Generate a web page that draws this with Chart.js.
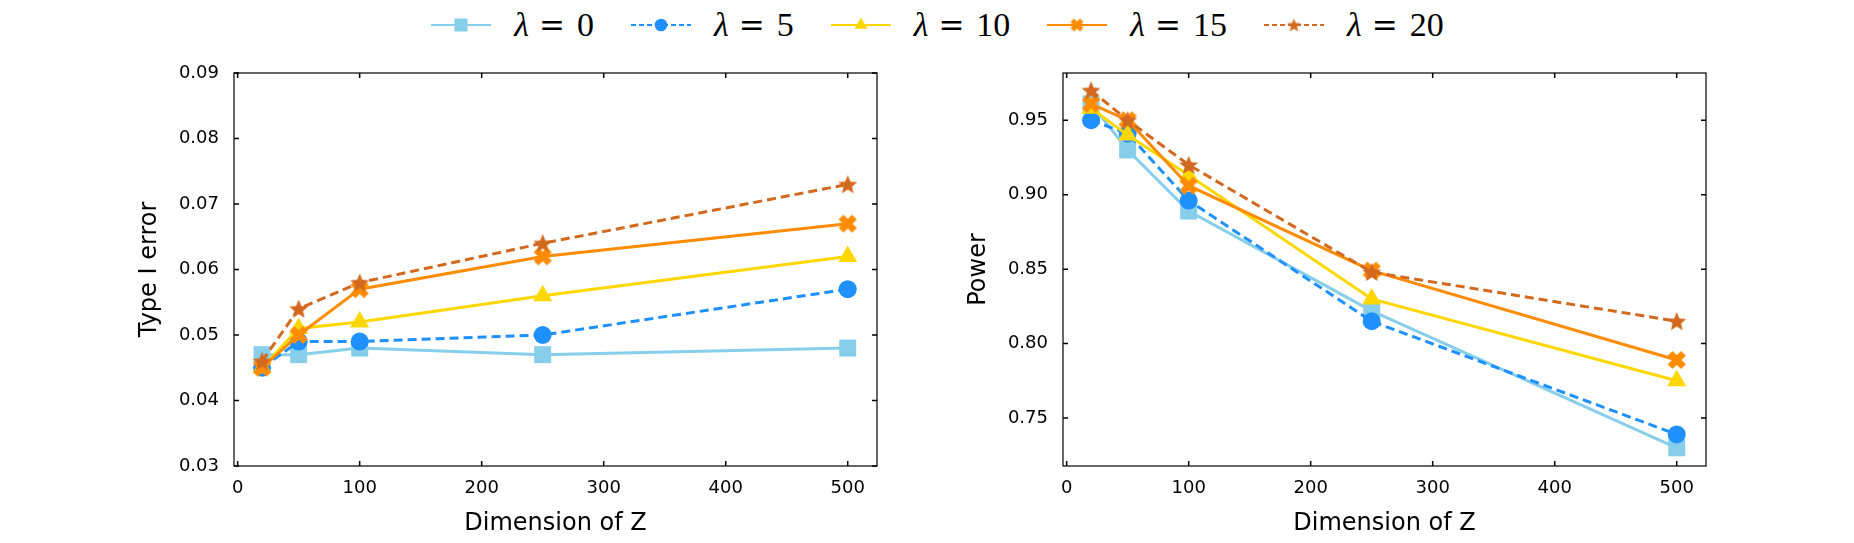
<!DOCTYPE html>
<html>
<head>
<meta charset="utf-8">
<script src="https://cdn.jsdelivr.net/npm/chart.js@4.4.1/dist/chart.umd.min.js"></script>
<style>
  html, body { margin: 0; padding: 0; background: #ffffff; }
  #wrap { position: relative; width: 1854px; height: 543px; overflow: hidden; background: #fff; }
  #left, #right { position: absolute; top: 0; width: 927px; height: 543px; }
  #left { left: 0; }
  #right { left: 927px; }
  #legend { position: absolute; top: 5px; left: 10px; width: 1854px; height: 40px;
            display: flex; justify-content: center; align-items: center; }
  .item { display: flex; align-items: center; margin: 0 18px; }
  .item canvas { width: 62px; height: 30px; margin-right: 22px; }
  .lab { font-family: "Liberation Serif", "DejaVu Serif", serif; font-size: 34px; color: #000; white-space: nowrap; line-height: 40px; }
  .lab i { font-style: italic; }
  .lab .eq { font-family: "DejaVu Serif", serif; font-size: 31px; margin: 0 12px 0 10px; }
</style>
</head>
<body>
<div id="wrap">
  <div id="legend"></div>
  <canvas id="left" width="927" height="543"></canvas>
  <canvas id="right" width="927" height="543"></canvas>
</div>
<script>
// ---------------- data ----------------
const dims = [20, 50, 100, 250, 500];
const lambdaLabels = ["0", "5", "10", "15", "20"];

const typeI_l0  = [0.047, 0.047, 0.048, 0.047, 0.048];
const typeI_l5  = [0.045, 0.049, 0.049, 0.050, 0.057];
const typeI_l10 = [0.045, 0.051, 0.052, 0.056, 0.062];
const typeI_l15 = [0.045, 0.050, 0.057, 0.062, 0.067];
const typeI_l20 = [0.046, 0.054, 0.058, 0.064, 0.073];

const power_l0  = [0.961, 0.930, 0.889, 0.822, 0.730];
const power_l5  = [0.950, 0.941, 0.896, 0.815, 0.739];
const power_l10 = [0.958, 0.940, 0.913, 0.830, 0.775];
const power_l15 = [0.961, 0.950, 0.906, 0.849, 0.789];
const power_l20 = [0.970, 0.950, 0.920, 0.848, 0.815];

const xTicks = [0, 100, 200, 300, 400, 500];
const typeITicks = [0.03, 0.04, 0.05, 0.06, 0.07, 0.08, 0.09];
const powerTicks = [0.75, 0.80, 0.85, 0.90, 0.95];

// ---------------- styles ----------------
const colors = ["#87CEEB", "#1E90FF", "#FFD700", "#FF8C00", "#D2691E"];
const dashed = [false, true, false, false, true];
const markers = ["rect", "circle", "triangle", "xcross", "star5"];

function xcrossImage(color, size) {
  const c = document.createElement("canvas");
  const W = Math.ceil(size + 4);
  c.width = W; c.height = W;
  const ctx = c.getContext("2d");
  ctx.translate(W / 2, W / 2);
  ctx.rotate(Math.PI / 4);
  ctx.fillStyle = color;
  const L = size * 1.414 * 0.74, t = L * 0.36;
  ctx.fillRect(-L / 2, -t / 2, L, t);
  ctx.fillRect(-t / 2, -L / 2, t, L);
  return c;
}
function starImage(color, size) {
  const c = document.createElement("canvas");
  const W = Math.ceil(size + 4);
  c.width = W; c.height = W;
  const ctx = c.getContext("2d");
  const R = size / 2, r = R * 0.45;
  ctx.translate(W / 2, W / 2 + R * 0.08);
  ctx.beginPath();
  for (let k = 0; k < 10; k++) {
    const a = -Math.PI / 2 + k * Math.PI / 5;
    const rr = (k % 2 === 0) ? R : r;
    const px = Math.cos(a) * rr, py = Math.sin(a) * rr;
    if (k === 0) ctx.moveTo(px, py); else ctx.lineTo(px, py);
  }
  ctx.closePath();
  ctx.fillStyle = color;
  ctx.fill();
  return c;
}

function pointStyleFor(i, scale) {
  const m = markers[i];
  if (m === "xcross") return xcrossImage(colors[i], 18 * scale);
  if (m === "star5") return starImage(colors[i], 20 * scale);
  return m;
}
function pointRadiusFor(i) {
  return [12, 9, 11, 9, 9][i];
}

function makeDatasets(series) {
  return series.map((vals, i) => ({
    label: "λ = " + lambdaLabels[i],
    data: dims.map((x, k) => ({ x: x, y: vals[k] })),
    borderColor: colors[i],
    backgroundColor: colors[i],
    pointBackgroundColor: colors[i],
    pointBorderColor: colors[i],
    pointBorderWidth: 0,
    borderWidth: 3,
    borderDash: dashed[i] ? [9, 5] : [],
    pointStyle: pointStyleFor(i, 1),
    pointRadius: pointRadiusFor(i),
    tension: 0,
    fill: false,
    order: series.length - i
  }));
}

// frame + inward mirrored ticks
const frameTicks = {
  id: "frameTicks",
  beforeDatasetsDraw(chart) {
    const { ctx, chartArea: a, scales } = chart;
    const L = 5;
    ctx.save();
    ctx.strokeStyle = "#000";
    ctx.lineWidth = 1.2;
    ctx.strokeRect(a.left, a.top, a.right - a.left, a.bottom - a.top);
    ctx.lineWidth = 1.5;
    ctx.beginPath();
    scales.x.ticks.forEach(t => {
      const px = scales.x.getPixelForValue(t.value);
      ctx.moveTo(px, a.bottom); ctx.lineTo(px, a.bottom - L);
      ctx.moveTo(px, a.top); ctx.lineTo(px, a.top + L);
    });
    scales.y.ticks.forEach(t => {
      const py = scales.y.getPixelForValue(t.value);
      ctx.moveTo(a.left, py); ctx.lineTo(a.left + L, py);
      ctx.moveTo(a.right, py); ctx.lineTo(a.right - L, py);
    });
    ctx.stroke();
    ctx.restore();
  }
};

const tickFont = { family: "'DejaVu Sans', sans-serif", size: 18 };
const titleFont = { family: "'DejaVu Sans', sans-serif", size: 24 };

function makeChart(canvasId, series, yMin, yMax, yTickVals, yTitle, yAxisWidth, padRight, yTitlePad) {
  return new Chart(document.getElementById(canvasId), {
    type: "line",
    data: { datasets: makeDatasets(series) },
    plugins: [frameTicks],
    options: {
      responsive: false,
      animation: false,
      events: [],
      layout: { padding: { left: 0, right: padRight, top: 73, bottom: 0 } },
      plugins: { legend: { display: false }, tooltip: { enabled: false } },
      scales: {
        x: {
          type: "linear",
          min: -3, max: 524,
          grid: { display: false, drawTicks: false },
          border: { display: false },
          afterBuildTicks(s) { s.ticks = xTicks.map(v => ({ value: v })); },
          afterFit(s) { s.height = 77; },
          ticks: { font: tickFont, color: "#000", padding: 12, callback: v => String(v) },
          title: { display: true, text: "Dimension of Z", font: titleFont, color: "#000",
                   padding: { top: 0, bottom: 5 } }
        },
        y: {
          type: "linear",
          min: yMin, max: yMax,
          grid: { display: false, drawTicks: false },
          border: { display: false },
          afterBuildTicks(s) { s.ticks = yTickVals.map(v => ({ value: v })); },
          afterFit(s) { s.width = yAxisWidth; },
          ticks: { font: tickFont, color: "#000", padding: 15, callback: v => Number(v).toFixed(2) },
          title: { display: true, text: yTitle, font: titleFont, color: "#000",
                   padding: { top: yTitlePad, bottom: 0 } }
        }
      }
    }
  });
}

makeChart("left",
  [typeI_l0, typeI_l5, typeI_l10, typeI_l15, typeI_l20],
  0.03, 0.09, typeITicks, "Type I error", 234, 50, 135.6);

makeChart("right",
  [power_l0, power_l5, power_l10, power_l15, power_l20],
  0.7178, 0.9817, powerTicks, "Power", 136, 148, 37.6);

// ---------------- legend ----------------
const legend = document.getElementById("legend");
lambdaLabels.forEach((lab, i) => {
  const item = document.createElement("div");
  item.className = "item";
  const sw = document.createElement("canvas");
  sw.width = 62; sw.height = 30;
  const ctx = sw.getContext("2d");
  ctx.strokeStyle = colors[i];
  ctx.lineWidth = 2;
  ctx.setLineDash(dashed[i] ? [5, 3] : []);
  ctx.beginPath(); ctx.moveTo(1, 15); ctx.lineTo(61, 15); ctx.stroke();
  ctx.setLineDash([]);
  const ps = pointStyleFor(i, 0.72);
  ctx.fillStyle = colors[i];
  if (typeof ps === "string") {
    ctx.beginPath();
    if (ps === "rect") { ctx.fillRect(31 - 6.5, 15 - 6.5, 13, 13); }
    else if (ps === "circle") { ctx.arc(31, 15, 6.3, 0, Math.PI * 2); ctx.fill(); }
    else { const r = 7.5; ctx.moveTo(31, 15 - r); ctx.lineTo(31 + r * 0.866, 15 + r * 0.5); ctx.lineTo(31 - r * 0.866, 15 + r * 0.5); ctx.closePath(); ctx.fill(); }
  } else {
    ctx.drawImage(ps, 31 - ps.width / 2, 15 - ps.height / 2);
  }
  item.appendChild(sw);
  const t = document.createElement("span");
  t.className = "lab";
  t.innerHTML = "<i>λ</i><span class='eq'>=</span>" + lab;
  item.appendChild(t);
  legend.appendChild(item);
});
</script>
</body>
</html>
